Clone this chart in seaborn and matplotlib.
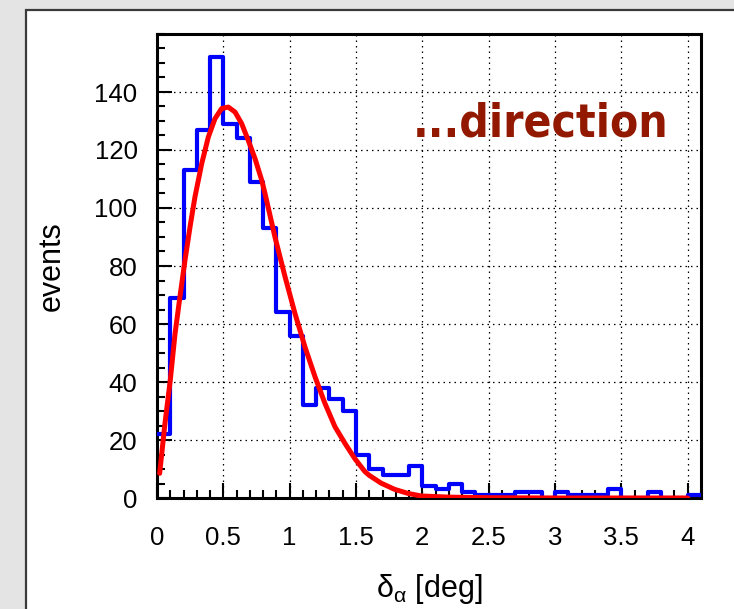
import numpy as np
import pandas as pd
import matplotlib
matplotlib.use("Agg")
import matplotlib.pyplot as plt
import seaborn as sns
from matplotlib.patches import Rectangle
from matplotlib.ticker import MultipleLocator

# ---------------- data ----------------
bin_edges = [round(0.1 * i, 1) for i in range(42)]          # 0.0 ... 4.1
counts = [22, 69, 113, 127, 152, 129, 124, 109, 93, 64,
          56, 32, 38, 34, 30, 15, 10, 8, 8, 11,
          4, 3, 5, 2, 1, 1, 1, 2, 2, 0,
          2, 1, 1, 1, 3, 0, 0, 2, 0, 0, 1]

fit_x = [0.02, 0.06, 0.10, 0.136, 0.173, 0.211, 0.249, 0.286, 0.337, 0.387,
         0.437, 0.487, 0.537, 0.588, 0.638, 0.688, 0.739, 0.789, 0.814, 0.889,
         0.965, 1.040, 1.115, 1.191, 1.266, 1.341, 1.417, 1.492, 1.567, 1.60,
         1.69, 1.79, 1.89, 1.99, 2.2, 2.5, 3.0, 4.0]
fit_y = [8.5, 25.7, 40.6, 56.7, 69.4, 82.0, 93.5, 103.8, 115.3, 124.5,
         130.8, 134.3, 134.8, 133.1, 129.1, 123.3, 117.0, 109.6, 105.0, 90.0,
         76.3, 63.6, 52.1, 41.8, 32.6, 24.6, 18.8, 13.5, 9.1, 7.8,
         5.1, 3.0, 1.6, 0.7, 0.3, 0.1, 0.0, 0.0]

x_ticks = [0, 0.5, 1, 1.5, 2, 2.5, 3, 3.5, 4]
x_tick_labels = ["0", "0.5", "1", "1.5", "2", "2.5", "3", "3.5", "4"]
y_ticks = [0, 20, 40, 60, 80, 100, 120, 140]
y_tick_labels = ["0", "20", "40", "60", "80", "100", "120", "140"]

x_label = r"$\mathregular{\delta_{\alpha}}$ [deg]"
y_label = "events"
annotation = "...direction"

# ---------------- style ----------------
sns.set_style("ticks")
plt.rcParams["font.family"] = ["Liberation Sans", "DejaVu Sans"]
plt.rcParams["mathtext.fontset"] = "custom"
plt.rcParams["mathtext.rm"] = "Liberation Sans"
for key in ["text.color", "axes.labelcolor", "xtick.color", "ytick.color",
            "xtick.labelcolor", "ytick.labelcolor"]:
    plt.rcParams[key] = "black"

fig = plt.figure(figsize=(7.34, 6.09), dpi=100)
fig.patch.set_facecolor("#e4e4e4")
panel = Rectangle((26 / 734, -0.05), 1.2, 1 - 10 / 609 + 0.05,
                  transform=fig.transFigure, facecolor="white",
                  edgecolor="#3a3a3a", linewidth=1.6, zorder=-1)
fig.patches.append(panel)

ax = fig.add_axes([157 / 734, 1 - 498 / 609, (701 - 157) / 734, (498 - 34) / 609])
ax.set_facecolor("white")

centers = [(bin_edges[i] + bin_edges[i + 1]) / 2 for i in range(len(counts))]
df = pd.DataFrame({"delta": centers, "events": counts})

sns.histplot(data=df, x="delta", weights="events", bins=bin_edges,
             element="step", fill=False, color="#0000ff", linewidth=3.0,
             ax=ax, zorder=3)
sns.lineplot(x=fit_x, y=fit_y, color="#ff0000", linewidth=3.6, ax=ax,
             zorder=4)

ax.set_xlim(0, 4.1)
ax.set_ylim(0, 160)

ax.set_xticks(x_ticks)
ax.set_xticklabels(x_tick_labels)
ax.set_yticks(y_ticks)
ax.set_yticklabels(y_tick_labels)
ax.xaxis.set_minor_locator(MultipleLocator(0.1))
ax.yaxis.set_minor_locator(MultipleLocator(5))

ax.tick_params(which="both", direction="in", top=False, right=False,
               width=1.5, colors="black", labelcolor="black")
ax.tick_params(which="major", length=11, labelsize=18.5)
ax.tick_params(axis="x", which="major", pad=20)
ax.tick_params(axis="y", which="major", pad=14)
ax.tick_params(which="minor", length=5.5)

for s in ax.spines.values():
    s.set_visible(True)
    s.set_linewidth(2.2)
    s.set_color("black")

ax.set_axisbelow(True)
ax.grid(True, which="major", color="black", linestyle=(0, (1.2, 3.2)),
        linewidth=0.9)

ax.set_xlabel(x_label, fontsize=22, labelpad=16, color="black")
ax.set_ylabel(y_label, fontsize=22, labelpad=20, color="black")

ax.text(1.93, 124.5, annotation, fontsize=33, fontweight="bold",
        fontstretch="condensed", family="DejaVu Sans", color="#921800",
        ha="left", va="baseline", zorder=5)

fig.savefig("out.png", dpi=100, facecolor=fig.get_facecolor())
